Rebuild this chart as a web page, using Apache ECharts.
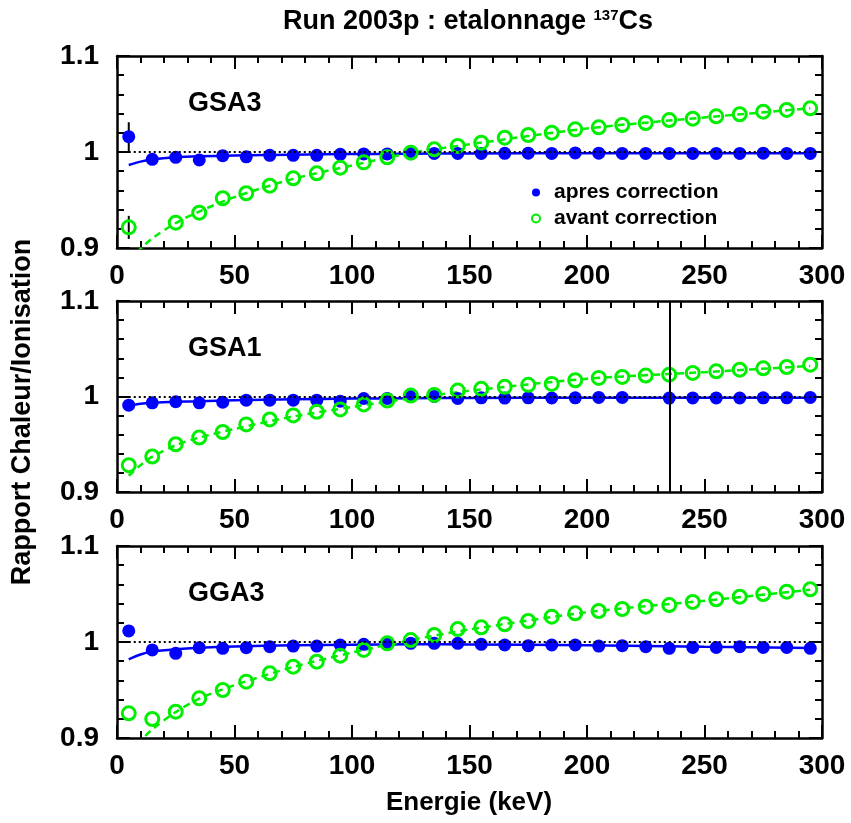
<!DOCTYPE html>
<html><head><meta charset="utf-8">
<script src="https://cdn.jsdelivr.net/npm/echarts@6/dist/echarts.min.js"></script>
<style>html,body{margin:0;padding:0;background:#fff}#c{width:851px;height:823px}</style>
</head><body><div id="c"></div>
<script>
// ---- data ----
const energies = [5,15,25,35,45,55,65,75,85,95,105,115,125,135,145,155,165,175,185,195,205,215,225,235,245,255,265,275,285,295];
const xTicks = [0,50,100,150,200,250,300];
const yTicks = [0.9,1,1.1];
const panelNames = ['GSA3','GSA1','GGA3'];
const legendNames = ['apres correction','avant correction'];

const gsa3Apres = [1.016,0.9924,0.9945,0.9917,0.9962,0.995,0.9965,0.9965,0.9965,0.9976,0.998,0.998,0.9985,0.9985,0.9985,0.9985,0.9986,0.9988,0.9985,0.999,0.9988,0.9985,0.9985,0.9985,0.9985,0.9985,0.9985,0.9988,0.9985,0.9985];
const gsa3Avant = [0.9215,null,0.9264,0.9368,0.9518,0.957,0.9649,0.9726,0.9778,0.9837,0.9892,0.9945,0.9993,1.0028,1.0063,1.0097,1.0149,1.0177,1.0201,1.0236,1.0257,1.0281,1.0302,1.0333,1.0347,1.0372,1.0393,1.042,1.0438,1.0455];
const gsa3ApresErr = [0.015,0,0,0,0,0,0,0,0,0,0,0,0,0,0,0,0,0,0,0,0,0,0,0,0,0,0,0,0,0];
const gsa3AvantErr = [0.012,0,0,0,0,0,0,0,0,0,0,0,0,0,0,0,0,0,0,0,0,0,0,0,0,0,0,0,0,0];

const gsa1Apres = [0.9909,0.9934,0.9945,0.9934,0.994,0.9962,0.9962,0.9962,0.9962,0.995,0.9979,0.998,1.0003,1.0,0.998,0.9986,0.9983,0.9986,0.9984,0.9986,0.999,0.999,null,0.9983,0.9985,0.9985,0.9984,0.9986,0.9986,0.999];
const gsa1Avant = [0.9281,0.9372,0.95,0.957,0.9628,0.9708,0.976,0.9802,0.984,0.9865,0.9917,0.9958,1.001,1.0017,1.0062,1.008,1.0101,1.0122,1.0132,1.017,1.0195,1.0205,1.0219,1.0229,1.0247,1.0264,1.0281,1.0295,1.0309,1.0333];

const gga3Apres = [1.0115,0.9917,0.9882,0.9941,0.9934,0.9941,0.9951,0.9958,0.9958,0.9969,0.9976,0.9976,0.9986,0.9986,0.9986,0.9976,0.9969,0.9962,0.9969,0.9969,0.9958,0.9962,0.9951,0.9934,0.9944,0.9944,0.9951,0.9944,0.9944,0.9934];
const gga3Avant = [0.9257,0.9198,0.9274,0.9413,0.95,0.9587,0.9674,0.9743,0.9795,0.9858,0.9917,0.9986,1.002,1.0073,1.0135,1.0153,1.0184,1.0219,1.0264,1.0299,1.0323,1.0344,1.0368,1.0385,1.0417,1.0445,1.0472,1.05,1.0524,1.0549];

// fitted curves
const fitX = [5,10,15,25,35,50,75,100,125,150,200,250,295];
const gsa3ApresFit = [0.9865,0.990,0.9923,0.9945,0.9955,0.9963,0.9972,0.9978,0.9982,0.9985,0.9986,0.9986,0.9986];
const gsa3AvantFit = [0.886,0.899,0.910,0.926,0.938,0.953,0.972,0.986,0.999,1.008,1.0245,1.036,1.0455];
const gsa1ApresFit = [0.9905,0.9925,0.9935,0.9945,0.995,0.996,0.997,0.9978,0.9982,0.9985,0.9986,0.9986,0.9987];
const gsa1AvantFit = [0.917,0.928,0.937,0.949,0.957,0.966,0.979,0.989,0.998,1.006,1.0185,1.0255,1.032];
const gga3ApresFit = [0.982,0.987,0.990,0.9925,0.994,0.9953,0.9965,0.9972,0.9976,0.9975,0.9965,0.995,0.9938];
const gga3AvantFit = [0.884,0.897,0.909,0.927,0.941,0.955,0.974,0.989,1.002,1.013,1.031,1.043,1.0545];

const refLevel = 1;
const refFrom = 5;
const gsa1Marker = 235;

// ---- chart ----
const FONT = '"Liberation Sans", Arial, Helvetica, sans-serif';
const BLUE = '#0000ff', GREEN = '#00ee00';
const panelTops = [56, 301, 546];
const panelHeights = [192, 191, 192];
const panels = [
  {apres: gsa3Apres, avant: gsa3Avant, apresFit: gsa3ApresFit, avantFit: gsa3AvantFit, apresErr: gsa3ApresErr, avantErr: gsa3AvantErr},
  {apres: gsa1Apres, avant: gsa1Avant, apresFit: gsa1ApresFit, avantFit: gsa1AvantFit, marker: gsa1Marker},
  {apres: gga3Apres, avant: gga3Avant, apresFit: gga3ApresFit, avantFit: gga3AvantFit}
];
const labelStyle = {fontSize: 28, fontWeight: 'bold', color: '#000', fontFamily: FONT};
const lineSt = {color: '#000', width: 2.5};
const tickSt = {color: '#000', width: 2};

const grid = [], xAxis = [], yAxis = [], series = [];
panels.forEach((p, i) => {
  grid.push({left: 117, width: 705, top: panelTops[i], height: panelHeights[i]});
  ['bottom','top'].forEach(pos => xAxis.push({
    gridIndex: i, type: 'value', position: pos, min: xTicks[0], max: xTicks[xTicks.length-1], interval: xTicks[1]-xTicks[0],
    axisLine: {onZero: false, lineStyle: lineSt},
    axisTick: {inside: true, length: 13, lineStyle: tickSt},
    minorTick: {show: true, splitNumber: 5, length: 7, lineStyle: tickSt},
    splitLine: {show: false},
    axisLabel: pos === 'bottom' ? Object.assign({margin: 14}, labelStyle) : {show: false}
  }));
  ['left','right'].forEach(pos => yAxis.push({
    gridIndex: i, type: 'value', position: pos, min: yTicks[0], max: yTicks[2], interval: yTicks[1]-yTicks[0],
    axisLine: {onZero: false, lineStyle: lineSt},
    axisTick: {inside: true, length: 13, lineStyle: tickSt},
    minorTick: {show: true, splitNumber: 5, length: 7, lineStyle: tickSt},
    splitLine: {show: false},
    axisLabel: pos === 'left' ? Object.assign({margin: 18, formatter: v => (Math.abs(v-1) < 1e-9 ? '1' : v.toFixed(1))}, labelStyle) : {show: false}
  }));
  const xi = 2*i, yi = 2*i;
  const markLines = [[{coord: [refFrom, refLevel]}, {coord: [xTicks[xTicks.length-1], refLevel]}]];
  series.push({
    type: 'line', xAxisIndex: xi, yAxisIndex: yi, showSymbol: false, smooth: 0.3, clip: true, z: 2,
    data: fitX.map((x, k) => [x, p.apresFit[k]]),
    lineStyle: {color: BLUE, width: 2.5},
    markLine: {silent: true, symbol: 'none', label: {show: false}, lineStyle: {type: [2, 3], color: '#000', width: 2}, data: markLines}
  });
  series.push({
    type: 'line', xAxisIndex: xi, yAxisIndex: yi, showSymbol: false, smooth: 0.3, clip: true, z: 2,
    data: fitX.map((x, k) => [x, p.avantFit[k]]),
    lineStyle: {color: GREEN, width: 2.5, type: [7, 5]}
  });
  if (p.marker !== undefined) {
    series.push({
      type: 'line', xAxisIndex: xi, yAxisIndex: yi, data: [], z: 5,
      markLine: {silent: true, symbol: 'none', label: {show: false}, lineStyle: {type: 'solid', color: '#000', width: 2}, data: [{xAxis: p.marker}]}
    });
  }
  if (p.apresErr) {
    const errData = [];
    energies.forEach((x, k) => {
      if (p.apresErr[k] > 0) errData.push([x, p.apres[k], p.apresErr[k]]);
      if (p.avantErr[k] > 0) errData.push([x, p.avant[k], p.avantErr[k]]);
    });
    series.push({
      type: 'custom', xAxisIndex: xi, yAxisIndex: yi, z: 2, data: errData,
      renderItem: (params, api) => {
        const a = api.coord([api.value(0), api.value(1) + api.value(2)]);
        const b = api.coord([api.value(0), api.value(1) - api.value(2)]);
        return {type: 'line', shape: {x1: a[0], y1: a[1], x2: b[0], y2: b[1]}, style: {stroke: '#000', lineWidth: 2}};
      }
    });
  }
  series.push({
    name: legendNames[0], type: 'scatter', xAxisIndex: xi, yAxisIndex: yi, z: 3,
    symbol: 'circle', symbolSize: 13, itemStyle: {color: BLUE, opacity: 1},
    data: energies.map((x, k) => [x, p.apres[k]]).filter(d => d[1] !== null)
  });
  series.push({
    name: legendNames[1], type: 'scatter', xAxisIndex: xi, yAxisIndex: yi, z: 4,
    symbol: 'circle', symbolSize: 13, itemStyle: {color: 'rgba(255,255,255,0)', borderColor: GREEN, borderWidth: 3, opacity: 1},
    data: energies.map((x, k) => [x, p.avant[k]]).filter(d => d[1] !== null)
  });
});

const labelYs = [104, 349, 594];
const graphic = panelNames.map((n, i) => ({
  type: 'text', x: 188, y: labelYs[i],
  style: {text: n, font: 'bold 27px ' + FONT, fill: '#000', verticalAlign: 'middle', align: 'left'}
}));
graphic.push({
  type: 'text', x: 468, y: 22,
  style: {
    text: 'Run 2003p : etalonnage {sup|137}Cs', font: 'bold 27px ' + FONT, fill: '#000',
    align: 'center', verticalAlign: 'middle',
    rich: {sup: {font: 'bold 15px ' + FONT, fill: '#000', verticalAlign: 'top', padding: [0, 0, 12, 0]}}
  }
});
graphic.push({
  type: 'text', x: 23, y: 412, rotation: Math.PI / 2,
  style: {text: 'Rapport Chaleur/Ionisation', font: 'bold 27px ' + FONT, fill: '#000', align: 'center', verticalAlign: 'middle'}
});
graphic.push({
  type: 'text', x: 469, y: 803,
  style: {text: 'Energie (keV)', font: 'bold 26px ' + FONT, fill: '#000', align: 'center', verticalAlign: 'middle'}
});

const chart = echarts.init(document.getElementById('c'), null, {renderer: 'canvas'});
chart.setOption({
  animation: false,
  backgroundColor: '#fff',
  grid, xAxis, yAxis, series, graphic,
  legend: {
    left: 526, top: 177, orient: 'vertical', itemGap: 5, itemWidth: 26, itemHeight: 8, selectedMode: false,
    data: [
      {name: legendNames[0], icon: 'circle', itemStyle: {color: BLUE}},
      {name: legendNames[1], icon: 'circle', itemStyle: {color: '#fff', borderColor: GREEN, borderWidth: 2}}
    ],
    textStyle: {fontSize: 21, fontWeight: 'bold', color: '#000', fontFamily: FONT}
  }
});
</script>
</body></html>
